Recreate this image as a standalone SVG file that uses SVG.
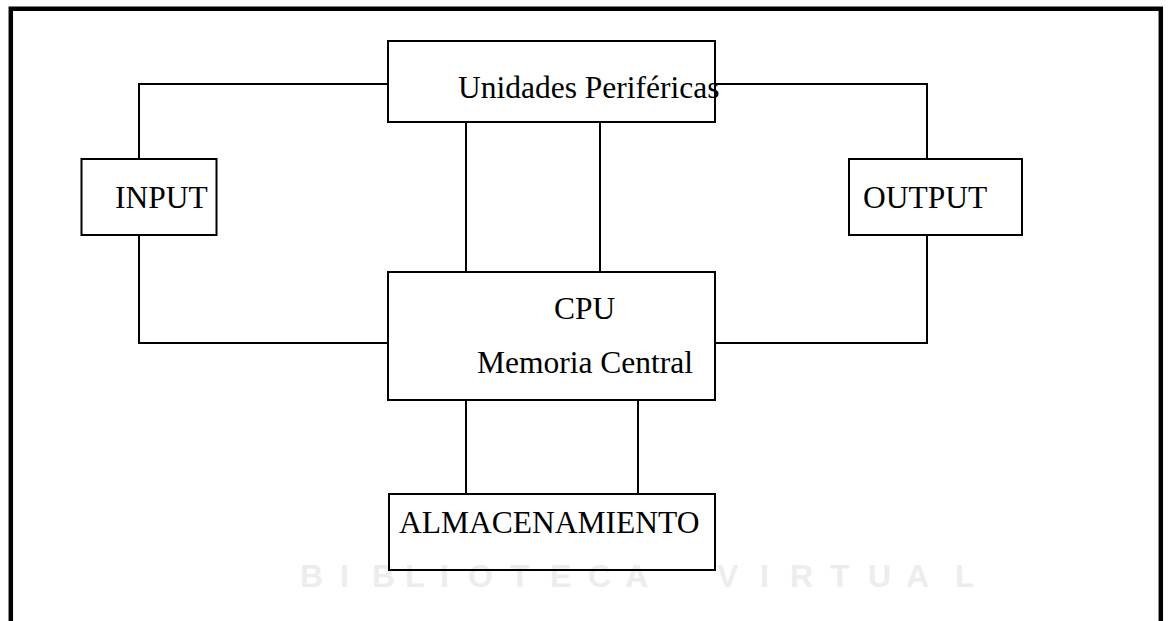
<svg xmlns="http://www.w3.org/2000/svg" width="1168" height="621" viewBox="0 0 1168 621">
<style>
.box{fill:none;stroke:#000;stroke-width:2}
.conn{fill:none;stroke:#000;stroke-width:2}
.lbl{font-family:"Liberation Serif","Times New Roman",serif;font-size:31.5px;fill:#000}
.wm{font-family:"Liberation Sans",Arial,sans-serif;font-size:32px;font-weight:bold;fill:#ededed}
</style>
<rect width="1168" height="621" fill="#fff"/>
<path d="M10.8 621 V8.8 H1160.8 V621" fill="none" stroke="#000" stroke-width="4.5"/>
<text class="wm" x="300 340 372 405 440 468 510 550 588 625 717 760 790 830 868 906 955" y="587">BIBLIOTECAVIRTUAL</text>
<g id="connectors">
<path class="conn" d="M388 84 H139 V159"/>
<path class="conn" d="M715 84 H927 V159"/>
<path class="conn" d="M466 122 V272"/>
<path class="conn" d="M600 122 V272"/>
<path class="conn" d="M139 235 V343 H388"/>
<path class="conn" d="M927 235 V343 H715"/>
<path class="conn" d="M466 400 V494"/>
<path class="conn" d="M638 400 V494"/>
</g>
<g id="perifericas">
<rect class="box" x="388" y="41" width="327" height="81"/>
<text class="lbl" x="458" y="98">Unidades Periféricas</text>
</g>
<g id="input">
<rect class="box" x="81.5" y="159" width="135" height="76"/>
<text class="lbl" x="115" y="208">INPUT</text>
</g>
<g id="output">
<rect class="box" x="849" y="159" width="173" height="76"/>
<text class="lbl" x="863" y="208">OUTPUT</text>
</g>
<g id="cpu">
<rect class="box" x="388" y="272" width="327" height="128"/>
<text class="lbl" x="554" y="319">CPU</text>
<text class="lbl" x="477" y="373">Memoria Central</text>
</g>
<g id="almacenamiento">
<rect class="box" x="389" y="494" width="326" height="76"/>
<text class="lbl" x="399" y="533">ALMACENAMIENTO</text>
</g>
</svg>
